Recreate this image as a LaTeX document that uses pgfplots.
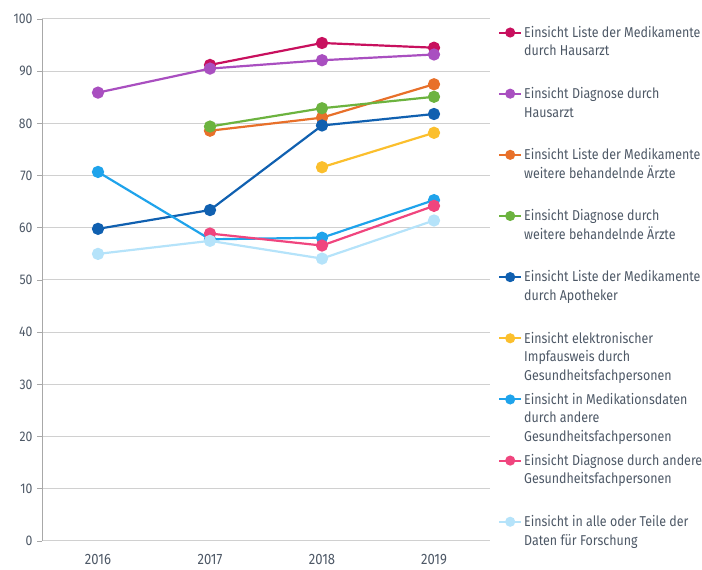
\documentclass[border=0pt]{standalone}
\usepackage{pgfplots}
\pgfplotsset{compat=1.18}
\usepackage{fontspec}
\setmainfont{Fira Sans}[FakeStretch=0.87]
\definecolor{cCrimson}{HTML}{C8105E}
\definecolor{cPurple}{HTML}{A94FC0}
\definecolor{cOrange}{HTML}{E8702A}
\definecolor{cGreen}{HTML}{6CB33F}
\definecolor{cDark}{HTML}{1060B0}
\definecolor{cYellow}{HTML}{FBBF2D}
\definecolor{cBlue}{HTML}{1FA3EB}
\definecolor{cPink}{HTML}{F0457E}
\definecolor{cLight}{HTML}{B5E3FA}
\definecolor{gridgray}{HTML}{D0D0D0}
\definecolor{axisgray}{HTML}{A8A8A8}
\definecolor{txtgray}{HTML}{4D5866}
\newcommand{\legtxt}[1]{\parbox[t]{180pt}{#1}}
\begin{document}
\begin{tikzpicture}
\path[use as bounding box] (-42pt,-29pt) rectangle (660pt,541pt);
\begin{axis}[
  at={(0,0)}, anchor=south west,
  scale only axis, width=448pt, height=522pt,
  xmin=2015.5, xmax=2019.5, ymin=0, ymax=100,
  xtick={2016,2017,2018,2019}, ytick={0,10,...,100},
  axis x line=bottom, axis y line=left,
  x axis line style={draw=none,-},
  y axis line style={draw=axisgray,line width=0.8pt,-},
  xtick style={draw=none},
  ytick style={draw=axisgray,line width=0.8pt},
  tick align=outside, major tick length=5pt,
  ymajorgrids, grid style={gridgray,line width=1pt},
  /pgf/number format/assume math mode=true,
  x tick label style={/pgf/number format/1000 sep={}, font=\fontsize{15}{17}\selectfont, yshift=-5pt},
  y tick label style={font=\fontsize{14}{16}\selectfont, xshift=-1pt},
  ticklabel style={text=txtgray},
  every axis plot/.append style={line width=2.2pt, mark=*, mark size=5pt},
  legend cell align=left,
  legend style={at={(1,1)}, anchor=north west, xshift=5pt, yshift=-3pt,
    draw=none, fill=none, row sep=44.5pt, column sep=0pt,
    font=\fontsize{14.3}{18.5}\selectfont, text=txtgray},
  legend image code/.code={%
    \draw[mark repeat=2,mark phase=2,mark size=4pt,line width=2pt]
      plot coordinates {(0pt,0pt) (11pt,0pt) (22pt,0pt)};},
]
\addplot[color=cCrimson] coordinates {(2017,91.2) (2018,95.4) (2019,94.5)};
\addlegendentry{\legtxt{Einsicht Liste der Medikamente\\durch Hausarzt}}
\addplot[color=cPurple] coordinates {(2016,85.9) (2017,90.5) (2018,92.1) (2019,93.2)};
\addlegendentry{\legtxt{Einsicht Diagnose durch\\Hausarzt}}
\addplot[color=cOrange] coordinates {(2017,78.6) (2018,81.1) (2019,87.5)};
\addlegendentry{\legtxt{Einsicht Liste der Medikamente\\weitere behandelnde Ärzte}}
\addplot[color=cGreen] coordinates {(2017,79.4) (2018,82.9) (2019,85.1)};
\addlegendentry{\legtxt{Einsicht Diagnose durch\\weitere behandelnde Ärzte}}
\addplot[color=cDark] coordinates {(2016,59.8) (2017,63.4) (2018,79.6) (2019,81.8)};
\addlegendentry{\legtxt{Einsicht Liste der Medikamente\\durch Apotheker}}
\addplot[color=cYellow] coordinates {(2018,71.6) (2019,78.2)};
\addlegendentry{\legtxt{Einsicht elektronischer\\Impfausweis durch\\Gesundheitsfachpersonen}}
\addplot[color=cBlue] coordinates {(2016,70.7) (2017,57.8) (2018,58.1) (2019,65.3)};
\addlegendentry{\legtxt{Einsicht in Medikationsdaten\\durch andere\\Gesundheitsfachpersonen}}
\addplot[color=cPink] coordinates {(2017,58.9) (2018,56.6) (2019,64.2)};
\addlegendentry{\legtxt{Einsicht Diagnose durch andere\\Gesundheitsfachpersonen}}
\addplot[color=cLight] coordinates {(2016,55.0) (2017,57.5) (2018,54.1) (2019,61.4)};
\addlegendentry{\legtxt{Einsicht in alle oder Teile der\\Daten für Forschung}}
\end{axis}
\end{tikzpicture}
\end{document}
